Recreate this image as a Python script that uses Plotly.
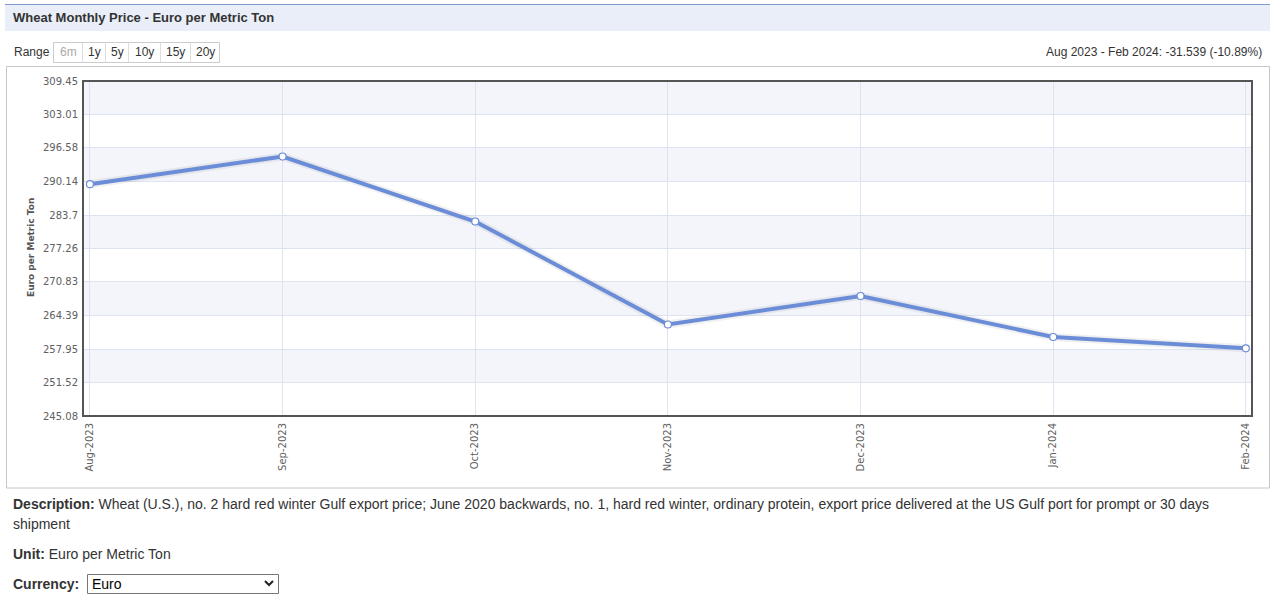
import plotly.graph_objects as go

# ---- data ----
months = ["Aug-2023", "Sep-2023", "Oct-2023", "Nov-2023", "Dec-2023", "Jan-2024", "Feb-2024"]
prices = [289.62, 294.94, 282.45, 262.66, 268.14, 260.26, 258.08]
y_ticks = [245.08, 251.52, 257.95, 264.39, 270.83, 277.26, 283.7, 290.14, 296.58, 303.01, 309.45]
y_tick_text = ["245.08", "251.52", "257.95", "264.39", "270.83", "277.26", "283.7", "290.14", "296.58", "303.01", "309.45"]
range_buttons = ["6m", "1y", "5y", "10y", "15y", "20y"]

title_text = "Wheat Monthly Price - Euro per Metric Ton"
change_text = "Aug 2023 - Feb 2024: -31.539 (-10.89%)"
desc_line1 = ("<b>Description:</b> Wheat (U.S.), no. 2 hard red winter Gulf export price; June 2020 backwards, "
              "no. 1, hard red winter, ordinary protein, export price delivered at the US Gulf port for prompt or 30 days")
desc_line2 = "shipment"
unit_text = "<b>Unit:</b> Euro per Metric Ton"
currency_label = "<b>Currency:</b>"
currency_value = "Euro"

# ---- layout geometry (pixels) ----
FW, FH = 1272, 610
L, T, R, B = 83, 81, 1252, 416
W, H = R - L, B - T


def px(x):
    return (x - L) / W


def py(y):
    return (B - y) / H


SANS = "Arial, Liberation Sans, sans-serif"
VERD = "Verdana, DejaVu Sans, sans-serif"

fig = go.Figure()

# faint shadow under the line
fig.add_trace(go.Scatter(
    x=months, y=prices, mode="lines",
    line=dict(color="rgba(0,0,0,0.06)", width=8),
    hoverinfo="skip", showlegend=False,
))
fig.add_trace(go.Scatter(
    x=months, y=prices, mode="lines+markers",
    line=dict(color="#6b8dd8", width=4),
    marker=dict(size=7, color="white", line=dict(color="#6b8dd8", width=1.2)),
    showlegend=False,
))

shapes = []
# alternating bands
for i in range(len(y_ticks) - 1):
    if (len(y_ticks) - 2 - i) % 2 == 0:
        shapes.append(dict(type="rect", xref="paper", yref="y", x0=0, x1=1,
                           y0=y_ticks[i], y1=y_ticks[i + 1],
                           fillcolor="#f3f5fb", line=dict(width=0), layer="below"))
# plot border
shapes.append(dict(type="rect", xref="paper", yref="paper", x0=0, x1=1, y0=0, y1=1,
                   line=dict(color="#555555", width=2), layer="above"))
# title bar
shapes.append(dict(type="rect", xref="paper", yref="paper", x0=px(5), x1=px(1270), y0=py(31), y1=py(4.5),
                   fillcolor="#e9eef8", line=dict(width=0), layer="below"))
shapes.append(dict(type="line", xref="paper", yref="paper", x0=px(5), x1=px(1270), y0=py(4.5), y1=py(4.5),
                   line=dict(color="#7f9ccf", width=1)))
# chart container
shapes.append(dict(type="rect", xref="paper", yref="paper", x0=px(6.5), x1=px(1269.5), y0=py(488), y1=py(66.5),
                   line=dict(color="#c6c6c6", width=1), fillcolor="rgba(0,0,0,0)"))
# range buttons box
btn_edges = [53, 82, 105, 128, 160, 190, 219]
shapes.append(dict(type="rect", xref="paper", yref="paper", x0=px(53.5), x1=px(219.5), y0=py(62.5), y1=py(42.5),
                   line=dict(color="#cccccc", width=1), fillcolor="white"))
for e in btn_edges[1:-1]:
    shapes.append(dict(type="line", xref="paper", yref="paper", x0=px(e + 0.5), x1=px(e + 0.5),
                       y0=py(62.5), y1=py(42.5), line=dict(color="#dddddd", width=1)))
# currency select box
shapes.append(dict(type="rect", xref="paper", yref="paper", x0=px(87.5), x1=px(278.5), y0=py(593.5), y1=py(574.5),
                   line=dict(color="#767676", width=1), fillcolor="white"))
shapes.append(dict(type="path", xref="paper", yref="paper",
                   path=f"M {px(265)} {py(581)} L {px(269)} {py(585)} L {px(273)} {py(581)}",
                   line=dict(color="#222222", width=2)))

annotations = []
annotations.append(dict(xref="paper", yref="paper", x=px(11), y=py(18), text=f"<b>{title_text}</b>",
                        showarrow=False, xanchor="left", yanchor="middle",
                        font=dict(family=SANS, size=13, color="#333333")))
annotations.append(dict(xref="paper", yref="paper", x=px(12), y=py(52.5), text="Range",
                        showarrow=False, xanchor="left", yanchor="middle",
                        font=dict(family=SANS, size=12, color="#333333")))
for i, lab in enumerate(range_buttons):
    cx = (btn_edges[i] + btn_edges[i + 1]) / 2 + 0.5
    annotations.append(dict(xref="paper", yref="paper", x=px(cx), y=py(52.5), text=lab,
                            showarrow=False, xanchor="center", yanchor="middle",
                            font=dict(family=SANS, size=12, color="#aaaaaa" if i == 0 else "#333333")))
annotations.append(dict(xref="paper", yref="paper", x=px(1264), y=py(52.5), text=change_text,
                        showarrow=False, xanchor="right", yanchor="middle",
                        font=dict(family=SANS, size=12, color="#333333")))
annotations.append(dict(xref="paper", yref="paper", x=px(31), y=py(248), text="<b>Euro per Metric Ton</b>",
                        textangle=-90, showarrow=False, xanchor="center", yanchor="middle",
                        font=dict(family=VERD, size=9, color="#555555")))
for txt, yy in [(desc_line1, 504), (desc_line2, 524), (unit_text, 554), (currency_label, 584)]:
    annotations.append(dict(xref="paper", yref="paper", x=px(11), y=py(yy), text=txt,
                            showarrow=False, xanchor="left", yanchor="middle",
                            font=dict(family=SANS, size=14, color="#333333")))
annotations.append(dict(xref="paper", yref="paper", x=px(90), y=py(584), text=currency_value,
                        showarrow=False, xanchor="left", yanchor="middle",
                        font=dict(family=SANS, size=14, color="#000000")))

fig.update_layout(
    width=FW, height=FH,
    margin=dict(l=L, r=FW - R, t=T, b=FH - B, pad=0),
    paper_bgcolor="white", plot_bgcolor="white",
    shapes=shapes, annotations=annotations,
    showlegend=False,
    xaxis=dict(
        type="category", range=[-0.036, len(months) - 1 + 0.032],
        tickangle=-90, showgrid=True, gridcolor="#dde3f1", gridwidth=1,
        tickfont=dict(family=VERD, size=10, color="#606060"),
        showline=False, zeroline=False, ticks="", ticklabelstandoff=4,
        fixedrange=True,
    ),
    yaxis=dict(
        range=[y_ticks[0], y_ticks[-1]], tickmode="array", tickvals=y_ticks, ticktext=y_tick_text,
        showgrid=True, gridcolor="#dde3f1", gridwidth=1,
        tickfont=dict(family=VERD, size=10, color="#606060"),
        showline=False, zeroline=False, ticks="", ticklabelstandoff=4,
        fixedrange=True,
    ),
)

fig.write_html(
    "out.html",
    config={"displayModeBar": False},
    post_script="document.body.style.margin='0px';document.body.style.overflow='hidden';",
)
